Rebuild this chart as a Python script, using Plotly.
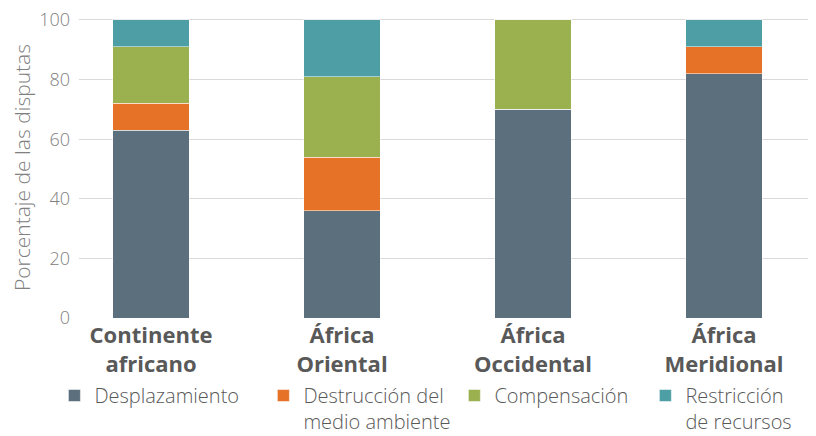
import plotly.graph_objects as go

categories = ["Continente<br>africano", "África<br>Oriental", "África<br>Occidental", "África<br>Meridional"]
series_names = ["Desplazamiento", "Destrucción del<br>medio ambiente", "Compensación", "Restricción<br>de recursos"]
desplazamiento = [63, 36, 70, 82]
destruccion = [9, 18, 0, 9]
compensacion = [19, 27, 30, 0]
restriccion = [9, 19, 0, 9]
colors = ["#5b6f7c", "#e57227", "#9bb150", "#4e9ea6"]
y_ticks = [0, 20, 40, 60, 80, 100]

fig = go.Figure()
for i, (name, vals, col) in enumerate(zip(series_names, [desplazamiento, destruccion, compensacion, restriccion], colors)):
    fig.add_trace(go.Bar(
        x=list(range(len(categories))), y=vals, name=name,
        marker=dict(color=col, line=dict(color="rgba(255,255,255,0.5)", width=1)),
        width=0.4,
        legend="legend" if i == 0 else "legend2",
    ))

legend_common = dict(
    orientation="h", xanchor="left", y=-0.1927, yanchor="top",
    font=dict(size=20, color="#595959", weight=300), valign="top",
    entrywidth=146, entrywidthmode="pixels", traceorder="normal",
    itemwidth=30, tracegroupgap=0, bgcolor="rgba(0,0,0,0)",
)

fig.update_layout(
    barmode="stack",
    width=808, height=428,
    margin=dict(l=71, r=3, t=9, b=118, autoexpand=False),
    plot_bgcolor="white", paper_bgcolor="white",
    font=dict(family="Open Sans", color="#595959"),
    xaxis=dict(
        tickmode="array", tickvals=list(range(len(categories))), ticktext=categories,
        range=[-0.377, 3.466], showgrid=False, zeroline=False,
        tickfont=dict(size=22, color="#595959", family="Open Sans", weight="bold"),
        ticks="", ticklabelstandoff=2, automargin=False,
    ),
    yaxis=dict(
        range=[0, 101], tickvals=y_ticks, showgrid=True, gridcolor="#d9d9d9", gridwidth=1,
        zeroline=False, tickfont=dict(size=18, color="#808080", weight=300),
        ticklabeloverflow="allow",
        title=dict(text="Porcentaje de las disputas", font=dict(size=21, color="#808080", weight=300), standoff=18),
        ticks="", ticklabelstandoff=8, automargin=False,
    ),
    legend=dict(x=-0.0335, **legend_common),
    legend2=dict(x=0.2512, **legend_common),
    showlegend=True,
)
fig.write_html("out.html")
